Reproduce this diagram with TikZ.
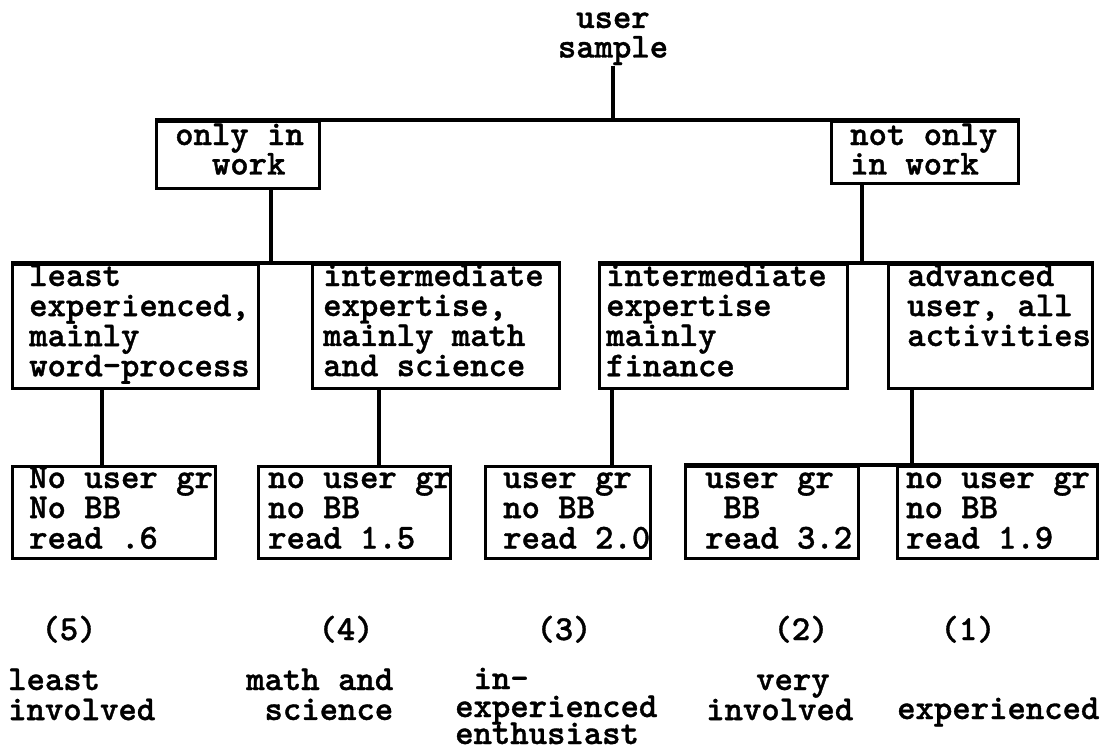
\documentclass[tikz,border=0pt]{standalone}
\usepackage{fontspec}
\usetikzlibrary{calc}
% heavy typewriter face used for every label
\newfontfamily\twface{lmmonolt10-bold.otf}[FakeBold=1]
\newcommand{\tw}{\twface\fontsize{35}{29}\selectfont}
% stacked lines, first baseline on the node's base
\newcommand{\rows}[2][29]{\fontsize{35}{#1}\selectfont\begin{tabular}[t]{@{}l@{}}#2\end{tabular}}
\newcommand{\crows}[2][29]{\fontsize{35}{#1}\selectfont\begin{tabular}[t]{@{}c@{}}#2\end{tabular}}
\begin{document}
\begin{tikzpicture}[x=1pt,y=-1pt,
  frame/.style={draw, line width=3.2pt, inner sep=0pt, anchor=north west},
  txt/.style={inner sep=0pt, anchor=base west, font=\tw},
  link/.style={line width=3.2pt}]
\useasboundingbox (0,0) rectangle (1112,752);

% root
\node[txt, anchor=base] (root) at (613,28) {\crows[27]{user\\sample}};

% first split
\node[frame, minimum width=163pt, minimum height=67pt] (b1) at (155,120) {};
\node[frame, minimum width=187pt, minimum height=62pt] (b2) at (830,120) {};
\node[txt] (tb1) at (175,145) {\rows[27]{only in\\\phantom{xx}work}};
\node[txt] (tb2) at (850,145) {\rows[27]{not only\\in work}};

% user profiles
\node[frame, minimum width=246pt, minimum height=124pt] (c1) at (11,263) {};
\node[frame, minimum width=247pt, minimum height=124pt] (c2) at (311,263) {};
\node[frame, minimum width=248pt, minimum height=124pt] (c3) at (598,263) {};
\node[frame, minimum width=204pt, minimum height=124pt] (c4) at (887,263) {};
\node[txt] (tc1) at (29,286) {\rows{least\\experienced,\\mainly\\word-process}};
\node[txt] (tc2) at (323,286) {\rows{intermediate\\expertise,\\mainly math\\and science}};
\node[txt] (tc3) at (606,286) {\rows{intermediate\\expertise\\mainly\\finance}};
\node[txt] (tc4) at (907,286) {\rows{advanced\\user, all\\activities}};

% group membership
\node[frame, minimum width=203pt, minimum height=92pt] (d1) at (11,465) {};
\node[frame, minimum width=192pt, minimum height=92pt] (d2) at (257,465) {};
\node[frame, minimum width=165pt, minimum height=92pt] (d3) at (484,465) {};
\node[frame, minimum width=173pt, minimum height=92pt] (d4) at (684,465) {};
\node[frame, minimum width=200pt, minimum height=92pt] (d5) at (896,465) {};
\node[txt] (td1) at (29,488) {\rows{No user gr\\No BB\\read .6}};
\node[txt] (td2) at (268,488) {\rows{no user gr\\no BB\\read 1.5}};
\node[txt] (td3) at (503,488) {\rows{user gr\\no BB\\read 2.0}};
\node[txt] (td4) at (705,488) {\rows{user gr\\\phantom{x}BB\\read 3.2}};
\node[txt] (td5) at (906,488) {\rows{no user gr\\no BB\\read 1.9}};

% cluster numbers and names
\node[txt, anchor=base] (n5) at (69,640) {(5)};
\node[txt, anchor=base] (n4) at (346,640) {(4)};
\node[txt, anchor=base] (n3) at (564,640) {(3)};
\node[txt, anchor=base] (n2) at (801,640) {(2)};
\node[txt, anchor=base] (n1) at (968,640) {(1)};
\node[txt] (l5) at (8,690) {\rows{least\\involved}};
\node[txt] (l4) at (246,690) {\rows{math and\\\phantom{x}science}};
\node[txt] (l3a) at (455,689) {\phantom{x}in-};
\node[txt] (l3b) at (455,717) {experienced};
\node[txt, text depth=0pt] (l3c) at (455,744) {enthusiast};
\node[txt] (l2) at (706,690) {\rows{\hspace*{50pt}very\\involved}};
\node[txt] (l1) at (897,719) {experienced};

% tree connectors
\coordinate (j1) at (271,263);
\coordinate (j2) at (862,263);
\coordinate (k1) at (102,465);
\coordinate (k2) at (379,465);
\coordinate (k3) at (612,465);
\coordinate (k4) at (912,465);

\draw[link] (root.south) -- (root.south |- b1.north);
\draw[link] (b1.north west) -- (b2.north east);
\draw[link] (b1.south -| j1) -- (j1);
\draw[link] (b2.south -| j2) -- (j2);
\draw[link] (c1.north west) -- (c2.north east);
\draw[link] (c3.north west) -- (c4.north east);
\draw[link] (c1.south -| k1) -- (k1);
\draw[link] (c2.south -| k2) -- (k2);
\draw[link] (c3.south -| k3) -- (k3);
\draw[link] (c4.south -| k4) -- (k4);
\draw[link] (d4.north west) -- (d5.north east);
\end{tikzpicture}
\end{document}
